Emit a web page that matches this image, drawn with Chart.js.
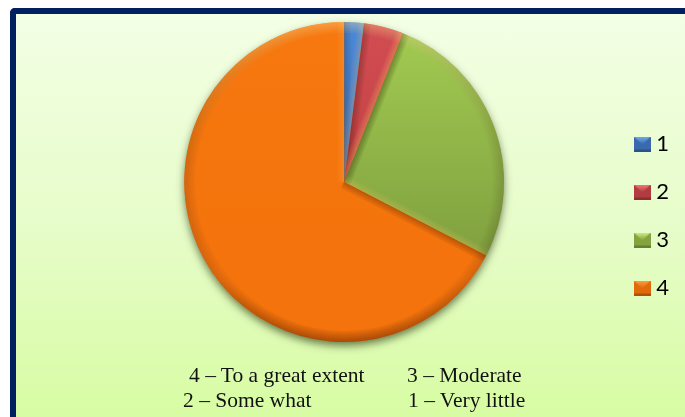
<!DOCTYPE html>
<html>
<head>
<meta charset="utf-8">
<script src="https://cdn.jsdelivr.net/npm/chart.js@4"></script>
<style>
html, body { margin: 0; padding: 0; background: #fff; overflow: hidden; }
#frame {
	position: absolute; left: 10px; top: 8px; width: 675px; height: 409px; box-sizing: border-box;
	border-left: 6px solid #00205f; border-top: 6px solid #00205f; border-top-left-radius: 5px;
	background: linear-gradient(to bottom, #f3ffe5 0%, #e6fcc8 55%, #d8fca3 100%);
}
#chart { position: absolute; left: 0; top: 0; }
.note { position: absolute; font: 21.5px "Liberation Serif", serif; color: #111; white-space: nowrap; line-height: 24px; }
</style>
</head>
<body>
<div id="frame"></div>
<canvas id="chart" width="685" height="417"></canvas>
<div id="notes"></div>
<script>
// du lieu doc tu hinh
const categories = ["1", "2", "3", "4"];
const values = [2, 4, 26.6, 67.4];
const topColors = ["#4b88d8", "#d24d52", "#a3cc52", "#f6780f"];
const bottomColors = ["#3d6cb4", "#b93a3e", "#7f9f3f", "#f4730c"];
const swatchColors = ["#3a69ad", "#b23b3f", "#84a33f", "#e06a0a"];
const swatchLights = ["#6fb0f0", "#f27a80", "#d4ee80", "#ffa040"];
const noteTexts = ["4 – To a great extent", "3 – Moderate", "2 – Some what", "1 – Very little"];
const noteLefts = [189, 407, 183, 408];
const noteTops = [363, 363, 388, 388];

noteTexts.forEach(function(text, i) {
	const el = document.createElement("div");
	el.className = "note";
	el.textContent = text;
	el.style.left = noteLefts[i] + "px";
	el.style.top = noteTops[i] + "px";
	document.getElementById("notes").appendChild(el);
});

// o mau legend co vien noi
function makeSwatch(i) {
	const c = document.createElement("canvas");
	c.width = 17;
	c.height = 15;
	const g = c.getContext("2d");
	g.fillStyle = swatchColors[i];
	g.fillRect(0, 0, 17, 15);
	const grad = g.createLinearGradient(0, 0, 0, 8);
	grad.addColorStop(0, swatchLights[i]);
	grad.addColorStop(1, swatchColors[i]);
	g.fillStyle = grad;
	g.beginPath();
	g.moveTo(0, 0);
	g.lineTo(17, 0);
	g.lineTo(8.5, 8);
	g.closePath();
	g.fill();
	g.fillStyle = "rgba(0,0,0,0.22)";
	g.fillRect(0, 13, 17, 2);
	return c;
}

function wedgePath(ctx, a) {
	ctx.beginPath();
	ctx.moveTo(a.x, a.y);
	ctx.arc(a.x, a.y, a.outerRadius, a.startAngle, a.endAngle);
	ctx.closePath();
}

// sang tu tren trai, toi o duoi
function strokeEdge(ctx, a, angle, side) {
	const nx = -Math.sin(angle) * side;
	const ny = Math.cos(angle) * side;
	const light = -ny - nx * 0.5;
	const col = light > 0 ? "rgba(255,205,110," + (0.09 * light) + ")" : "rgba(30,25,0," + (-0.09 * light) + ")";
	ctx.strokeStyle = col;
	for (let w = 2; w <= 14; w += 3) {
		ctx.lineWidth = w;
		ctx.beginPath();
		ctx.moveTo(a.x, a.y);
		ctx.lineTo(a.x + Math.cos(angle) * a.outerRadius, a.y + Math.sin(angle) * a.outerRadius);
		ctx.stroke();
	}
}

const bevelPlugin = {
	id: "bevel",
	afterLayout: function(chart) {
		// legend lech xuong so voi tam banh
		chart.legend.top += 34;
		chart.legend.bottom += 34;
	},
	beforeDatasetsDraw: function(chart) {
		const ctx = chart.ctx;
		const a = chart.getDatasetMeta(0).data[0];
		ctx.save();
		ctx.shadowColor = "rgba(45,60,20,0.7)";
		ctx.shadowBlur = 9;
		ctx.shadowOffsetY = 4;
		ctx.fillStyle = "#f4730c";
		ctx.beginPath();
		ctx.arc(a.x, a.y, a.outerRadius - 0.5, 0, Math.PI * 2);
		ctx.fill();
		ctx.restore();
	},
	afterDatasetsDraw: function(chart) {
		const ctx = chart.ctx;
		chart.getDatasetMeta(0).data.forEach(function(a) {
			ctx.save();
			wedgePath(ctx, a);
			ctx.clip();
			strokeEdge(ctx, a, a.startAngle, 1);
			strokeEdge(ctx, a, a.endAngle, -1);
			const grad = ctx.createLinearGradient(0, a.y - a.outerRadius, 0, a.y + a.outerRadius);
			grad.addColorStop(0, "rgba(255,225,150,0.07)");
			grad.addColorStop(0.45, "rgba(40,30,0,0.03)");
			grad.addColorStop(0.8, "rgba(60,30,0,0.03)");
			grad.addColorStop(1, "rgba(90,30,0,0.10)");
			ctx.strokeStyle = grad;
			for (let w = 2; w <= 22; w += 4) {
				ctx.lineWidth = w;
				ctx.beginPath();
				ctx.arc(a.x, a.y, a.outerRadius, a.startAngle, a.endAngle);
				ctx.stroke();
			}
			ctx.restore();
		});
	}
};

const ctx = document.getElementById("chart").getContext("2d");
const myChart = new Chart(ctx, {
	type: "pie",
	data: {
		labels: categories,
		datasets: [{
			data: values,
			borderWidth: 0,
			backgroundColor: function(c) {
				const area = c.chart.chartArea;
				if (!area) return topColors[c.dataIndex];
				const grad = c.chart.ctx.createLinearGradient(0, area.top, 0, area.bottom);
				grad.addColorStop(0, topColors[c.dataIndex]);
				grad.addColorStop(0.75, bottomColors[c.dataIndex]);
				return grad;
			}
		}]
	},
	options: {
		responsive: false,
		animation: false,
		layout: { padding: { left: 75, right: 6, top: 22, bottom: 75 } },
		plugins: {
			tooltip: { enabled: false },
			legend: {
				position: "right",
				labels: {
					usePointStyle: true,
					pointStyleWidth: 6,
					padding: 26,
					color: "#000",
					font: { family: "Lato", size: 22 },
					generateLabels: function(chart) {
						return Chart.overrides.pie.plugins.legend.labels.generateLabels(chart).map(function(item, i) {
							item.pointStyle = makeSwatch(i);
							return item;
						});
					}
				}
			}
		}
	},
	plugins: [bevelPlugin]
});
</script>
</body>
</html>
